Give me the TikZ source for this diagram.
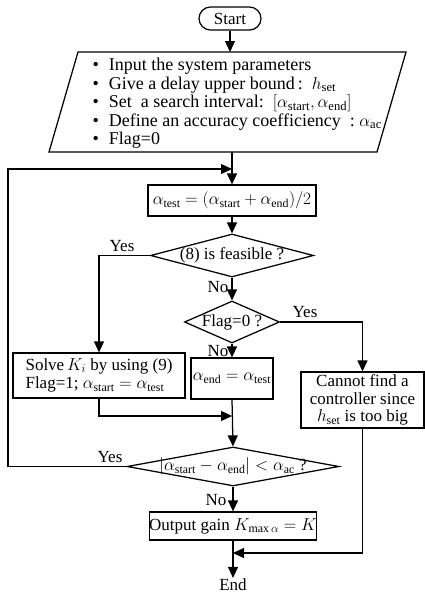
\documentclass[tikz,border=0pt]{standalone}
\usepackage{fontspec}
\setmainfont{Liberation Serif}
\usetikzlibrary{arrows.meta,shapes.geometric}
\newcommand\aSt{\alpha_{\mathrm{start}}}
\newcommand\aEn{\alpha_{\mathrm{end}}}
\newcommand\aTe{\alpha_{\mathrm{test}}}
\newcommand\aAc{\alpha_{\mathrm{ac}}}
\newcommand\hSe{h_{\mathrm{set}}}
\begin{document}
\begin{tikzpicture}[x=1pt,y=-1pt,
  font=\fontsize{17}{18.5}\selectfont,
  line width=1.25pt,
  >={Triangle[length=11pt,width=10pt]},
  box/.style={draw,rectangle,inner sep=0pt,align=center},
  dia/.style={draw,diamond,inner sep=0pt},
  lbl/.style={inner sep=0pt},
  plain/.style={inner sep=0pt}]
\useasboundingbox (0,0) rectangle (425,595);
% start
\node[box,rounded corners=11.5pt,minimum width=62pt,minimum height=23pt] (start) at (230,18.5) {Start};
% input parallelogram
\coordinate (pbl) at (49,152);
\coordinate (pbr) at (377,152);
\coordinate (ptr) at (406,52);
\coordinate (ptl) at (78,52);
\draw (pbl) -- (pbr) -- (ptr) -- (ptl) -- cycle;
\coordinate (ptop) at (230,52);
\coordinate (pbot) at (232,152);
\node[plain,anchor=west,font=\fontsize{18}{18.5}\selectfont] (input) at (92,104) {%
  \begin{tabular}{@{}l@{\hspace{10pt}}l@{}}
  \textbullet & Input the system parameters\\
  \textbullet & Give a delay upper bound\thinspace:\ \ $\hSe$\\
  \textbullet & Set\ \ a search interval:\ \ $\bigl[\aSt,\aEn\bigr]$\\
  \textbullet & Define an accuracy coefficiency\ \ :\ $\aAc$\\
  \textbullet & Flag=0
  \end{tabular}};
% boxes
\node[box,minimum width=168pt,minimum height=31pt] (atest) at (232,200.5)
  {$\aTe=\Bigl(\aSt+\aEn\Bigr)/2$};
\node[dia,minimum width=163pt,minimum height=43pt,
  label={[lbl]center:{(8) is feasible ?}}] (d1) at (232,255.5) {};
\node[dia,minimum width=95pt,minimum height=42pt,
  label={[lbl]center:{Flag=0 ?}}] (d2) at (232,322) {};
\node[box,minimum width=172pt,minimum height=45pt,align=left] (solve) at (99,375.5)
  {Solve\,$K_i$ by using (9)\\Flag=1;\ $\aSt=\aTe$};
\node[box,minimum width=82pt,minimum height=41pt] (aend) at (232,378.5)
  {$\aEn=\aTe$};
\node[box,minimum width=123pt,minimum height=56pt,
  font=\fontsize{17}{17.5}\selectfont] (cannot) at (362.5,400)
  {Cannot find a\\controller since\\$\hSe$ is too big};
\node[dia,minimum width=212pt,minimum height=39pt,
  label={[lbl]center:{$\bigl|\aSt-\aEn\bigr|<\aAc$ ?}}] (d3) at (233,466.5) {};
\node[box,minimum width=163pt,minimum height=28pt] (output) at (233,526)
  {Output gain $K_{\max\alpha}=K$};
\node[plain] (end) at (233,584.5) {End};
% junctions
\coordinate (loopin) at (232,169);
\coordinate (lc) at (8,169);
\coordinate (j1) at (232,416);
\coordinate (j2) at (233,553);
% connectors
\draw[->] (start.south) -- (ptop);
\draw[->] (pbot) -- (atest.north);
\draw[->] (d3.west) -| (lc) -- (loopin);
\draw[->] (atest.south) -- (d1.north);
\draw[->] (d1.west) -| (solve.north);
\draw[->] (d1.south) -- (d2.north);
\draw[->] (d2.east) -| (cannot.north);
\draw[->] (d2.south) -- (aend.north);
\draw[->] (solve.south) |- (j1);
\draw[->] (aend.south) -- (d3.north);
\draw[->] (d3.south) -- (output.north);
\draw[->] (cannot.south) |- (j2);
\draw[->] (output.south) -- (end.north);
% branch labels
\node[plain] (y1) at (122,246) {Yes};
\node[plain] (n1) at (218,287) {No};
\node[plain] (y2) at (305,312) {Yes};
\node[plain] (n2) at (218,351) {No};
\node[plain] (y3) at (110,457) {Yes};
\node[plain] (n3) at (216,500) {No};
\end{tikzpicture}
\end{document}
